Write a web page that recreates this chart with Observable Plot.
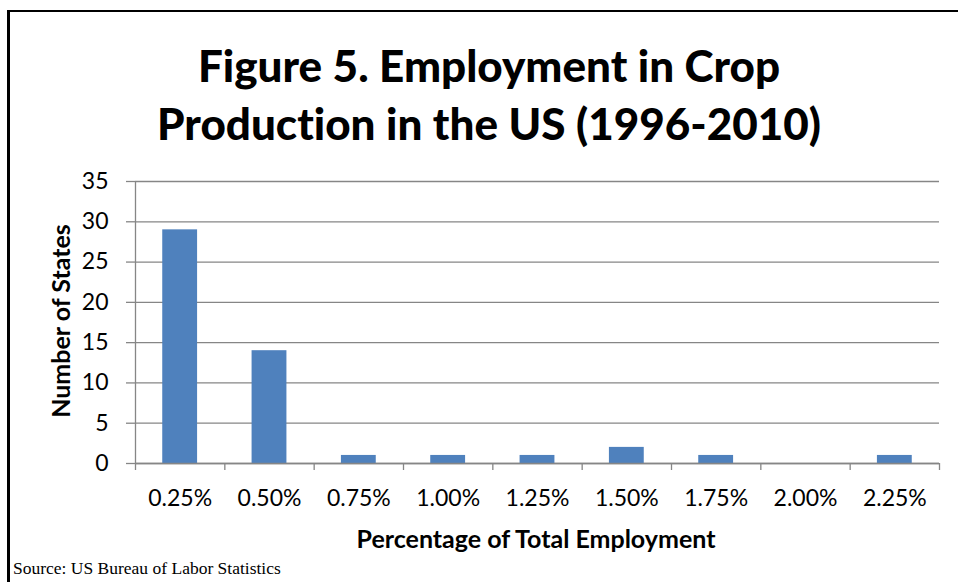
<!DOCTYPE html>
<html>
<head>
<meta charset="utf-8">
<script src="https://cdn.jsdelivr.net/npm/d3@7"></script>
<script src="https://cdn.jsdelivr.net/npm/@observablehq/plot@0.6"></script>
<style>
  html, body { margin: 0; padding: 0; background: #fff; }
  #wrap { position: relative; width: 958px; height: 582px; overflow: hidden; background: #fff; font-family: Lato, "Open Sans", sans-serif; font-variant-ligatures: none; }
  #wrap svg { position: absolute; left: 0; top: 0; }
  .bt { position: absolute; background: #000; }
  #title { position: absolute; left: 20px; width: 938px; top: 36px; text-align: center; font-weight: 900; font-size: 44px; line-height: 58px; color: #000; }
  #ylab { position: absolute; left: 60px; top: 321px; transform: translate(-50%, -50%) rotate(-90deg); white-space: nowrap; font-weight: bold; font-size: 25px; color: #000; }
  #xlab { position: absolute; left: 536px; top: 538px; transform: translate(-50%, -50%); white-space: nowrap; font-weight: bold; font-size: 25px; color: #000; }
  #src { position: absolute; left: 13px; top: 558px; font-family: "Liberation Serif", "Times New Roman", serif; font-size: 17.5px; color: #000; white-space: nowrap; }
</style>
</head>
<body>
<div id="wrap">
  <div class="bt" style="left:7px; top:10px; width:951px; height:2px;"></div>
  <div class="bt" style="left:7px; top:10px; width:3px; height:572px;"></div>
  <div id="title">Figure 5. Employment in Crop<br>Production in the US (1996-2010)</div>
  <div id="ylab">Number of States</div>
  <div id="xlab">Percentage of Total Employment</div>
  <div id="src">Source: US Bureau of Labor Statistics</div>
</div>
<script>
const categories = ["0.25%", "0.50%", "0.75%", "1.00%", "1.25%", "1.50%", "1.75%", "2.00%", "2.25%"];
const states = [29, 14, 1, 1, 1, 2, 1, 0, 1];
const yTicks = [0, 5, 10, 15, 20, 25, 30, 35];

const data = categories.map((c, i) => ({ c, i, v: states[i] }));
const gridColor = "#868686";

const chart = Plot.plot({
  width: 958,
  height: 582,
  marginLeft: 135,
  marginRight: 19,
  marginTop: 181,
  marginBottom: 119,
  x: { type: "linear", domain: [0, categories.length] },
  y: { domain: [0, 35] },
  style: { fontFamily: "Lato, 'Open Sans', sans-serif", fontSize: "23px", color: "#000", background: "transparent" },
  marks: [
    Plot.gridY(yTicks, { stroke: gridColor, strokeOpacity: 1, strokeWidth: 1.3 }),
    Plot.ruleX([0], { stroke: gridColor, strokeWidth: 1.3 }),
    Plot.rectY(data, { x1: d => d.i + 0.305, x2: d => d.i + 0.695, y: "v", fill: "#4F81BD" }),
    Plot.axisY({ ticks: yTicks, tickSize: 9, tickPadding: 18, stroke: gridColor, strokeWidth: 1.3, fill: "#000", label: null }),
    Plot.axisX({ ticks: d3.range(categories.length + 1), tickSize: 7, tickFormat: () => "", stroke: gridColor, strokeWidth: 1.3, label: null }),
    Plot.axisX({ ticks: data.map(d => d.i + 0.5), tickSize: 0, tickPadding: 26, tickFormat: t => categories[Math.floor(t)], fill: "#000", label: null }),
    Plot.ruleY([0], { stroke: gridColor, strokeWidth: 1.3 })
  ]
});
document.getElementById("wrap").insertBefore(chart, document.getElementById("title"));
</script>
</body>
</html>
